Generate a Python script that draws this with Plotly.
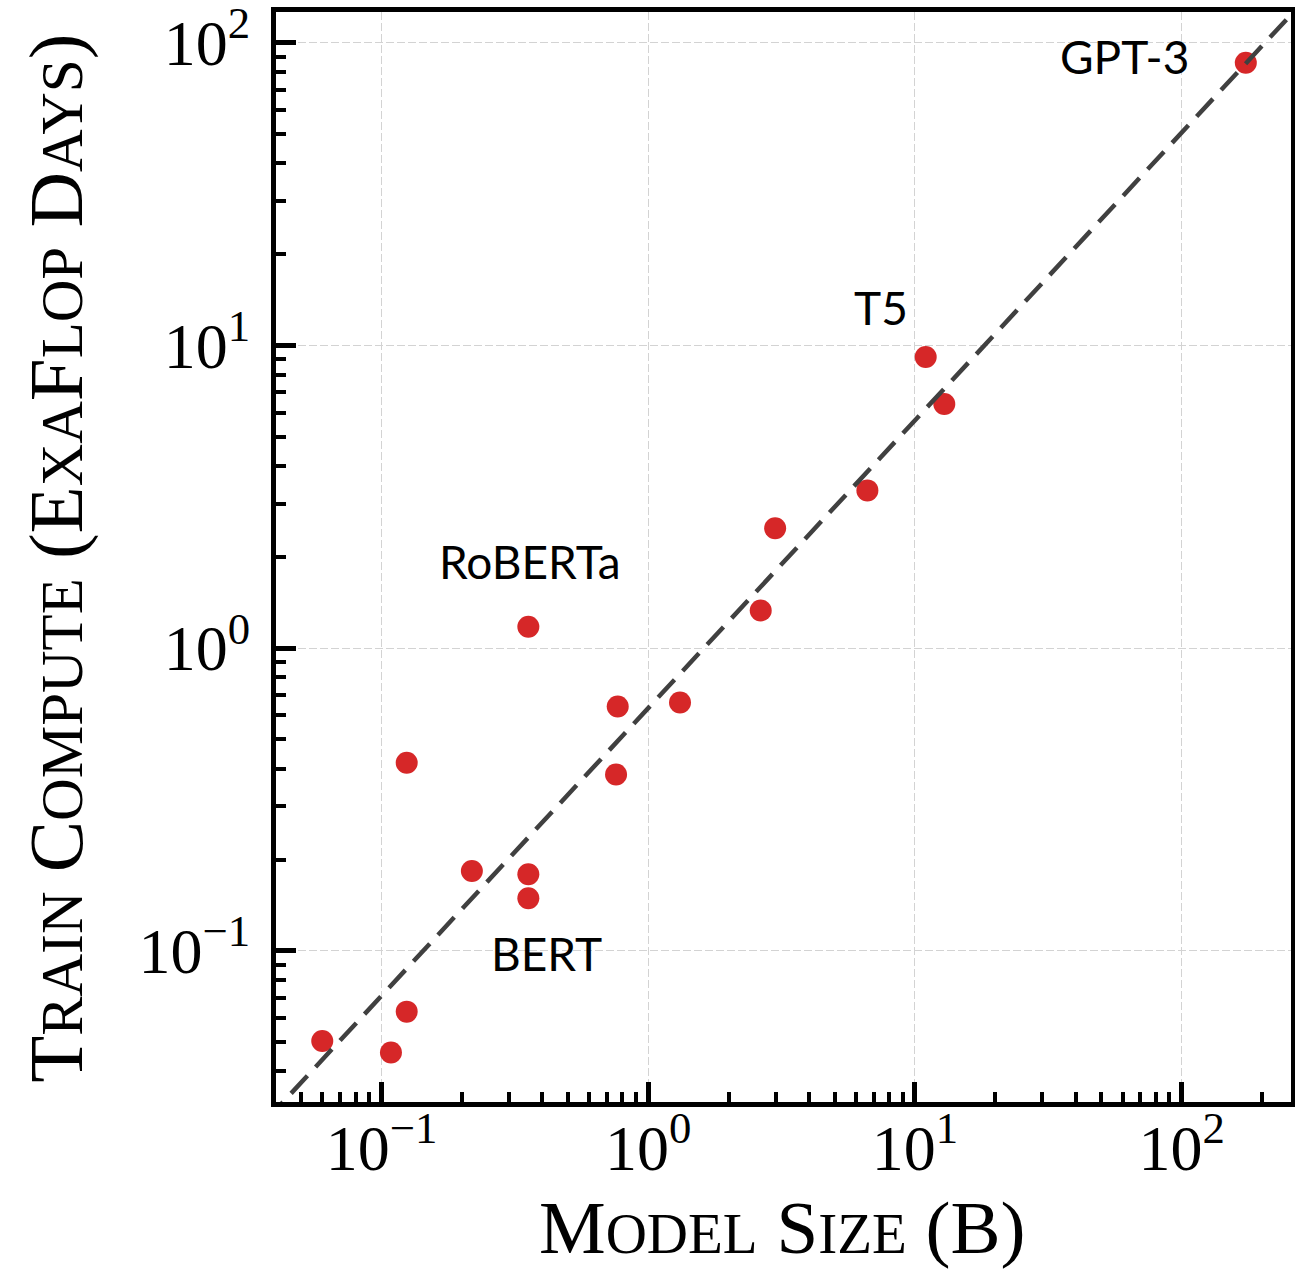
import math
import plotly.graph_objects as go

# Model size (billions of parameters) and training compute (exaflop days)
model_size_b = [0.0599, 0.1084, 0.1242, 0.1242, 0.218, 0.355, 0.355, 0.355,
                0.768, 0.757, 1.315, 2.64, 2.99, 6.63, 10.97, 12.88, 174.0]
train_compute = [0.0503, 0.0461, 0.0629, 0.418, 0.1835, 0.179, 0.149, 1.176,
                 0.641, 0.382, 0.661, 1.331, 2.49, 3.32, 9.16, 6.41, 86.0]

# Trend line end points (log-log fit)
fit_x = [0.03, 400.0]
fit_y = [0.0226, 188.7]

# Labelled models: name, label position
label_names = ["GPT-3", "T5", "RoBERTa", "BERT"]
label_x = [60.8, 7.45, 0.359, 0.417]
label_y = [90.2, 13.4, 1.93, 0.0976]

tick_vals = [0.1, 1, 10, 100]
tick_text = ["10<sup>\u22121</sup>", "10<sup>0</sup>", "10<sup>1</sup>", "10<sup>2</sup>"]
minor_vals = [m * 10 ** e for e in range(-2, 3) for m in range(2, 10)]

x_title = "Model Size (B)"
y_title = "Train Compute (ExaFlop Days)"

SERIF = "Liberation Serif"
SANS = "Lato"


def small_caps(text, small):
    out = []
    for word in text.split(" "):
        w = ""
        for ch in word:
            if ch.isalpha() and ch.islower():
                w += f"<span style='font-size:{small}px'>{ch.upper()}</span>"
            else:
                w += ch
        out.append(w)
    return " ".join(out)


fig = go.Figure()

fig.add_trace(go.Scatter(
    x=model_size_b, y=train_compute, mode="markers",
    marker=dict(color="#d62728", size=22, line=dict(width=0)),
    showlegend=False, hoverinfo="x+y",
))

fig.add_trace(go.Scatter(
    x=fit_x, y=fit_y, mode="lines",
    line=dict(color="#404040", width=4.5, dash="24px,12px"),
    showlegend=False, hoverinfo="skip",
))

for name, lx, ly in zip(label_names, label_x, label_y):
    fig.add_annotation(
        x=math.log10(lx), y=math.log10(ly), xref="x", yref="y",
        text=name, showarrow=False,
        font=dict(family=SANS, size=46, color="black"),
        xanchor="center", yanchor="middle",
    )

# Axis titles (small caps emulation)
fig.add_annotation(
    x=0.499, y=-0.1148, xref="paper", yref="paper",
    text=small_caps(x_title, 57), showarrow=False,
    font=dict(family=SERIF, size=75, color="black"),
    xanchor="center", yanchor="middle",
)
fig.add_annotation(
    x=-0.2167, y=0.4984, xref="paper", yref="paper",
    text=small_caps(y_title, 59), showarrow=False, textangle=-90,
    font=dict(family=SERIF, size=77, color="black"),
    xanchor="center", yanchor="middle",
)

axis_common = dict(
    type="log", automargin=False, ticklabeloverflow="allow",
    showline=True, linewidth=5, linecolor="black", mirror=True,
    ticks="inside", ticklen=20, tickwidth=5, tickcolor="black",
    tickmode="array", tickvals=tick_vals, ticktext=tick_text,
    tickfont=dict(family=SERIF, size=64, color="black"),
    showgrid=True, gridcolor="#d3d3d3", gridwidth=1, griddash="8px,3px",
    minor=dict(tickmode="array", tickvals=minor_vals, ticks="inside",
               ticklen=10, tickwidth=4, tickcolor="black", showgrid=False),
    zeroline=False,
)

fig.update_xaxes(**axis_common, range=[-1.396, 2.410], ticklabelstandoff=-14)
fig.update_yaxes(**axis_common, range=[-1.50, 2.102], ticklabelstandoff=8)

fig.update_layout(
    width=1295, height=1269,
    margin=dict(l=276, r=4, t=12, b=167, autoexpand=False),
    plot_bgcolor="white", paper_bgcolor="white",
)

fig.write_html("out.html")
